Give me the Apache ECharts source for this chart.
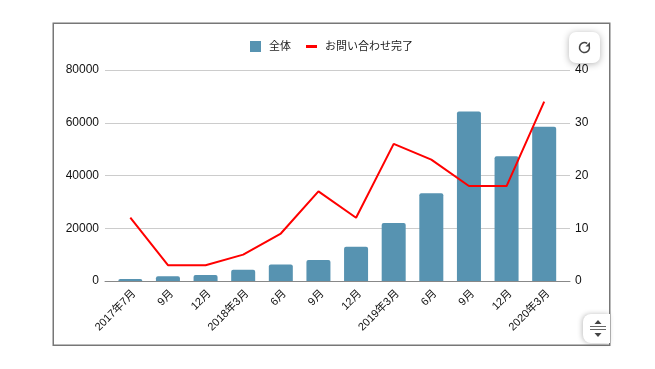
<!DOCTYPE html>
<html><head><meta charset="utf-8">
<style>html,body{margin:0;padding:0;background:#fff}#c{width:655px;height:369px}</style>
<script src="https://cdn.jsdelivr.net/npm/echarts@6/dist/echarts.min.js"></script>
</head><body><div id="c"></div>
<script>
const categories = ['2017年7月','9月','12月','2018年3月','6月','9月','12月','2019年3月','6月','9月','12月','2020年3月'];
const totalValues = [800,1800,2300,4300,6300,8000,13000,22000,33300,64300,47300,58500];
const completedValues = [12,3,3,5,9,17,12,26,23,18,18,34];
const seriesNames = ['全体','お問い合わせ完了'];
const font = '"Liberation Sans","Noto Sans CJK JP",sans-serif';
const chart = echarts.init(document.getElementById('c'), null, {renderer:'canvas'});
const gridTop = 70, gridBottom = 88;
chart.setOption({
  animation:false,
  textStyle:{fontFamily:font,color:'#111',fontSize:12},
  legend:{top:36,left:245,itemGap:15,itemWidth:11,itemHeight:11,
    textStyle:{fontFamily:font,fontSize:11,color:'#222',padding:[0,0,0,3]},
    data:[{name:seriesNames[0],icon:'rect'},{name:seriesNames[1],icon:'path://M0 0H11V3H0Z'}]},
  grid:[{left:105,right:85,top:gridTop,bottom:gridBottom},{left:111.5,right:92,top:gridTop,bottom:gridBottom}],
  xAxis:[
    {gridIndex:0,type:'value',min:0,max:1,splitLine:{show:false},axisTick:{show:false},axisLabel:{show:false},
     axisLine:{show:true,onZero:false,lineStyle:{color:'#888',width:1}}},
    {gridIndex:1,type:'category',data:categories,axisLine:{show:false},axisTick:{show:false},
     axisLabel:{interval:0,rotate:45,color:'#111',fontSize:11,margin:7,verticalAlign:'top',fontFamily:font}}
  ],
  yAxis:[
    {gridIndex:0,type:'value',min:0,max:80000,interval:20000,position:'left',axisLine:{show:false},axisTick:{show:false},
     axisLabel:{color:'#111',fontSize:12,margin:6,padding:[2,0,0,0],fontFamily:font,formatter:v=>String(v)},splitLine:{show:true,lineStyle:{color:'#ccc',width:1}}},
    {gridIndex:0,type:'value',min:0,max:40,interval:10,position:'right',axisLine:{show:false},axisTick:{show:false},
     axisLabel:{color:'#111',fontSize:12,margin:5,padding:[2,0,0,0],fontFamily:font},splitLine:{show:false}},
    {gridIndex:1,type:'value',min:0,max:80000,show:false,splitLine:{show:false}},
    {gridIndex:1,type:'value',min:0,max:40,show:false,splitLine:{show:false}}
  ],
  series:[
    {name:seriesNames[0],type:'bar',xAxisIndex:1,yAxisIndex:2,data:totalValues,barWidth:24,
     itemStyle:{color:'#5793b1',borderRadius:[2,2,0,0]}},
    {name:seriesNames[1],type:'line',xAxisIndex:1,yAxisIndex:3,data:completedValues,symbol:'none',
     lineStyle:{color:'#ff0000',width:2},itemStyle:{color:'#ff0000'}}
  ],
  graphic:[
    {type:'rect',z:-1,silent:true,shape:{x:53.25,y:23.25,width:556.5,height:322},style:{fill:'#fff',stroke:'#777',lineWidth:1.5}},
    {type:'rect',z:100,shape:{x:569,y:32,width:31,height:31,r:7},style:{fill:'#fff',shadowBlur:7,shadowColor:'rgba(0,0,0,.3)',shadowOffsetY:1}},
    {type:'arc',z:101,shape:{cx:584.5,cy:47.5,r:5,startAngle:-0.6,endAngle:Math.PI*2-1.0,clockwise:true},style:{fill:'none',stroke:'#444',lineWidth:1.5}},
    {type:'polygon',z:101,shape:{points:[[590,42],[590,46.5],[585.5,46.5]]},style:{fill:'#444'}},
    {type:'rect',z:100,shape:{x:583,y:314,width:27,height:29,r:[8,0,0,8]},style:{fill:'#fff',shadowBlur:5,shadowColor:'rgba(0,0,0,.25)',shadowOffsetX:-1}},
    {type:'rect',z:101,shape:{x:590,y:326,width:16,height:1},style:{fill:'#666'}},
    {type:'rect',z:101,shape:{x:590,y:329,width:16,height:1},style:{fill:'#666'}},
    {type:'polygon',z:101,shape:{points:[[598,320],[594.5,324],[601.5,324]]},style:{fill:'#444'}},
    {type:'polygon',z:101,shape:{points:[[598,337],[594.5,333],[601.5,333]]},style:{fill:'#444'}}
  ]
});
</script></body></html>
